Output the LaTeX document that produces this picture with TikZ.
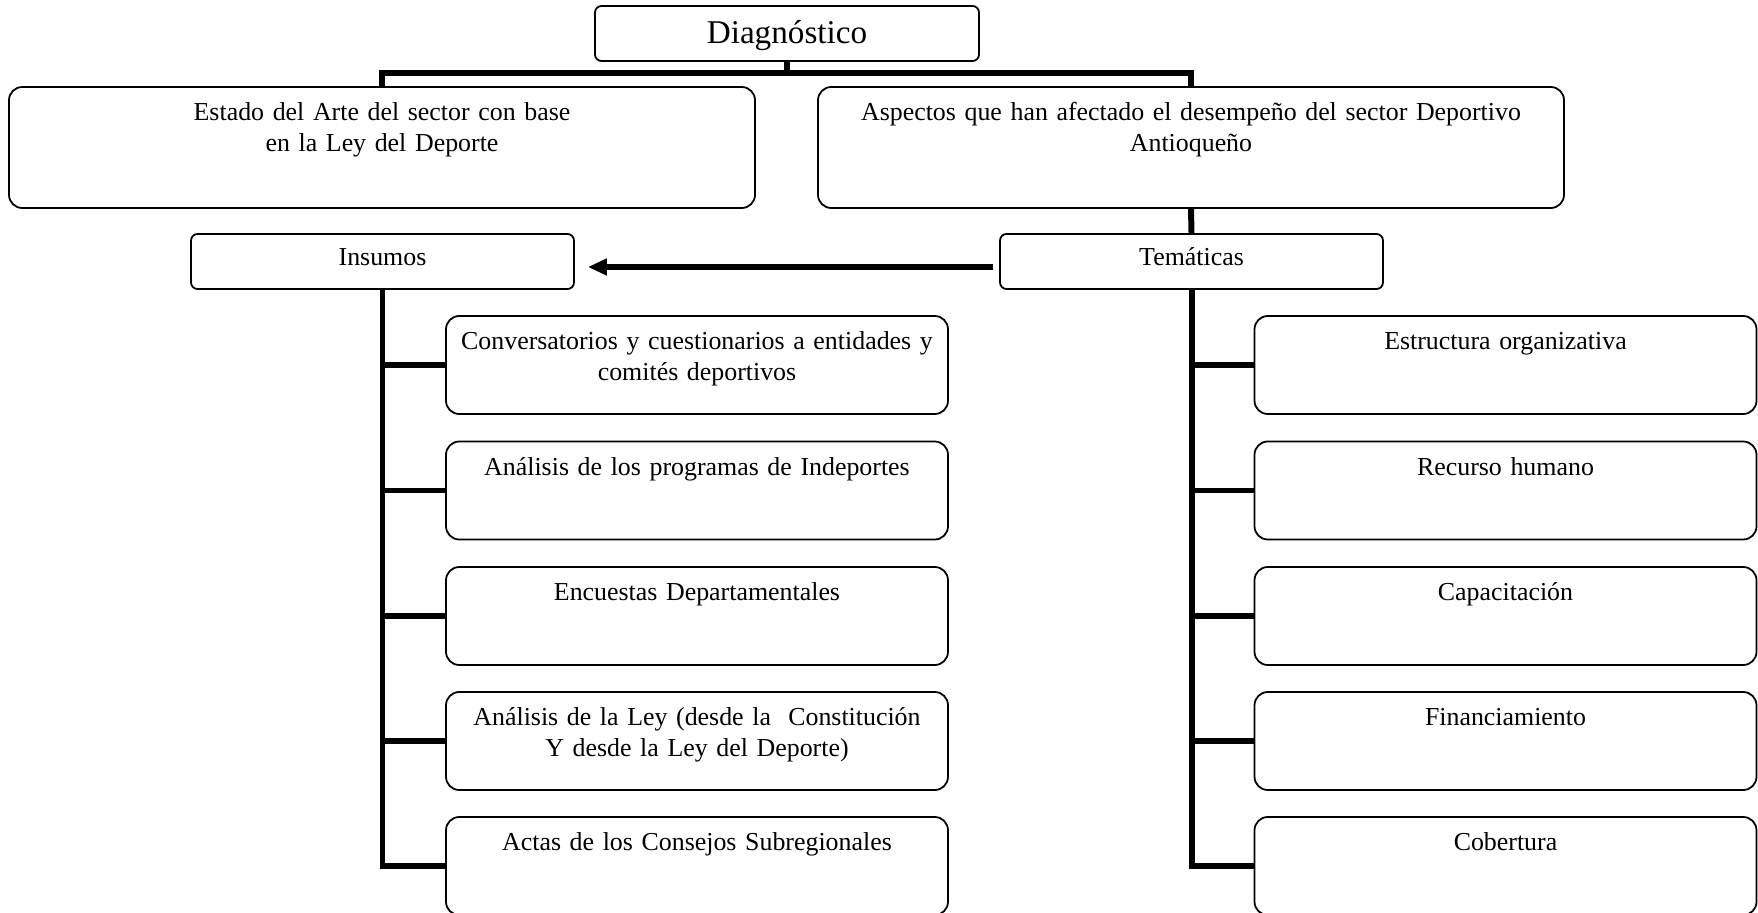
\documentclass[tikz,border=0pt]{standalone}
\usepackage{tikz}
\usepackage{xcolor}
\usepackage{fontspec}
\setmainfont{Liberation Serif}
\usetikzlibrary{arrows.meta}

\begin{document}
\begin{tikzpicture}[x=0.452pt,y=-0.452pt,
  box/.style={draw=black,line width=0.8pt,fill=white,inner sep=0pt,align=center,font=\fontsize{11.7}{14}\selectfont},
  topbox/.style={box,rounded corners=3pt,text width=173.6pt,text height=16.8pt,text depth=8.1pt,font=\fontsize{15}{18}\selectfont},
  bigbox/.style={box,rounded corners=6pt,text width=337.2pt,text height=15.2pt,text depth=39.5pt},
  headbox/.style={box,rounded corners=3pt,text width=173.1pt,text height=14.3pt,text depth=10.6pt},
  itembox/.style={box,rounded corners=6pt,text width=226.9pt,text height=15.3pt,text depth=29pt},
  conn/.style={line width=2.7pt}]
\useasboundingbox (0,0) rectangle (1758,913);
\node[topbox] (1) at (787,33.5) {Diagnóstico};
  \node[bigbox] (2) at (382,147.5) {Estado del Arte del sector con base\\en la Ley del Deporte};
  \node[bigbox] (3) at (1191,147.5) {Aspectos que han afectado el desempeño del sector Deportivo\\Antioqueño};
  \node[headbox] (4) at (382.5,261.5) {Insumos};
  \node[headbox] (5) at (1191.5,261.5) {Temáticas};
  \node[itembox] (6) at (697,365) {Conversatorios y cuestionarios a entidades y\\comités deportivos};
  \node[itembox] (7) at (697,490.5) {Análisis de los programas de Indeportes};
  \node[itembox] (8) at (697,616) {Encuestas Departamentales};
  \node[itembox] (9) at (697,741) {Análisis de la Ley (desde la\ \ Constitución\\Y desde la Ley del Deporte)};
  \node[itembox] (10) at (697,866) {Actas de los Consejos Subregionales};
  \node[itembox] (11) at (1505.5,365) {Estructura organizativa};
  \node[itembox] (12) at (1505.5,490.5) {Recurso humano};
  \node[itembox] (13) at (1505.5,616) {Capacitación};
  \node[itembox] (14) at (1505.5,741) {Financiamiento};
  \node[itembox] (15) at (1505.5,866) {Cobertura};
\draw[conn] (1.south) -- ++(0,13);
\draw[conn] (2.north) -- ++(0,-13) -| (3.north);
\draw[conn] (3.south) -- (5.north);
\draw[conn,-{Triangle[length=8.6pt,width=7.2pt]}] ([shift={(-6,5.5)}]5.west) -- ([shift={(13,5.5)}]4.east);
\draw[conn] (4.south) |- (6.west);
\draw[conn] (4.south) |- (7.west);
\draw[conn] (4.south) |- (8.west);
\draw[conn] (4.south) |- (9.west);
\draw[conn] (4.south) |- (10.west);
\draw[conn] (5.south) |- (11.west);
\draw[conn] (5.south) |- (12.west);
\draw[conn] (5.south) |- (13.west);
\draw[conn] (5.south) |- (14.west);
\draw[conn] (5.south) |- (15.west);
\end{tikzpicture}
\end{document}
